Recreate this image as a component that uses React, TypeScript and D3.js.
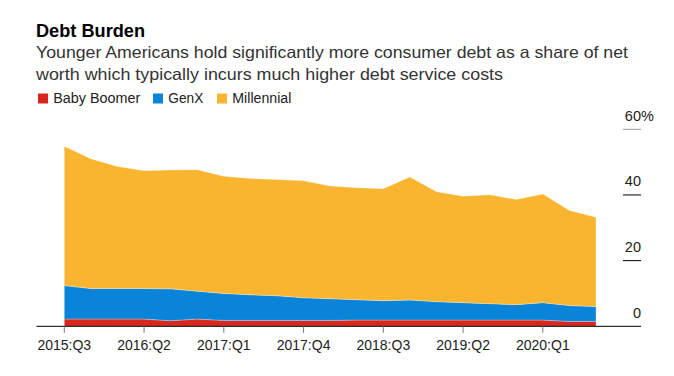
import React from "react";
import * as d3 from "d3";

const quarters = [
  "2015:Q3", "2015:Q4", "2016:Q1", "2016:Q2", "2016:Q3", "2016:Q4", "2017:Q1",
  "2017:Q2", "2017:Q3", "2017:Q4", "2018:Q1", "2018:Q2", "2018:Q3", "2018:Q4",
  "2019:Q1", "2019:Q2", "2019:Q3", "2019:Q4", "2020:Q1", "2020:Q2", "2020:Q3",
];
const babyBoomer = [2.2, 2.2, 2.2, 2.2, 1.7, 2.2, 1.8, 1.8, 1.8, 1.8, 1.8, 1.9, 1.9, 1.9, 1.9, 1.9, 1.9, 1.9, 1.9, 1.5, 1.5];
const genX = [10.2, 9.3, 9.3, 9.3, 9.7, 8.5, 8.2, 7.8, 7.5, 6.9, 6.6, 6.2, 5.9, 6.1, 5.6, 5.3, 5.0, 4.7, 5.3, 4.8, 4.5];
const millennial = [42.4, 39.5, 37.2, 35.9, 36.2, 37.0, 35.7, 35.4, 35.4, 35.6, 34.3, 34.1, 34.1, 37.5, 33.5, 32.4, 33.2, 32.0, 33.1, 29.0, 27.2];

const tickQuarters = ["2015:Q3", "2016:Q2", "2017:Q1", "2017:Q4", "2018:Q3", "2019:Q2", "2020:Q1"];
const yTicks = [0, 20, 40, 60];

const seriesNames = ["Baby Boomer", "GenX", "Millennial"];
const colors = ["#d9271d", "#0a84d8", "#f9b530"];

export default function App() {
  const width = 674;
  const height = 376;
  const font = "'Liberation Sans', Arial, Helvetica, sans-serif";

  const rows = quarters.map((q, i) => ({
    q,
    "Baby Boomer": babyBoomer[i],
    GenX: genX[i],
    Millennial: millennial[i],
  }));
  const stack = d3.stack<any>().keys(seriesNames);
  const layers = stack(rows);

  const x = d3.scaleLinear().domain([0, quarters.length - 1]).range([64.3, 596]);
  const y = d3.scaleLinear().domain([0, 60]).range([326.3, 129.3]);

  const area = d3
    .area<any>()
    .x((_d, i) => x(i))
    .y0((d) => y(d[0]))
    .y1((d) => y(d[1]))
    .curve(d3.curveLinear);

  const legendItems = [
    { name: seriesNames[0], x: 38, w: 87 },
    { name: seriesNames[1], x: 153, w: 35 },
    { name: seriesNames[2], x: 217, w: 59 },
  ];

  return (
    <svg
      width={width}
      height={height}
      style={{ position: "absolute", left: 0, top: 0, background: "#fff" }}
      fontFamily={font}
    >
      <text x={36} y={37} fontSize={18} fontWeight="bold" fill="#000" textLength={109} lengthAdjust="spacingAndGlyphs">
        Debt Burden
      </text>
      <text x={36} y={57.5} fontSize={16.5} fill="#333" textLength={592} lengthAdjust="spacingAndGlyphs">
        Younger Americans hold significantly more consumer debt as a share of net
      </text>
      <text x={36} y={79.5} fontSize={16.5} fill="#333" textLength={467} lengthAdjust="spacingAndGlyphs">
        worth which typically incurs much higher debt service costs
      </text>

      {legendItems.map((it, i) => (
        <g key={it.name}>
          <rect x={it.x} y={93.5} width={10} height={10} fill={colors[i]} />
          <text x={it.x + 15.3} y={103} fontSize={14} fill="#222" textLength={it.w} lengthAdjust="spacingAndGlyphs">
            {it.name}
          </text>
        </g>
      ))}

      {layers.map((layer, i) => (
        <path
          key={layer.key}
          d={area(layer as any) || ""}
          fill={colors[i]}
          stroke="rgba(255,255,255,0.35)"
          strokeWidth={0.8}
        />
      ))}

      {/* baseline */}
      <line x1={36.5} x2={641} y1={y(0)} y2={y(0)} stroke="#000" strokeWidth={1} />

      {/* x ticks */}
      {tickQuarters.map((tq) => {
        const i = quarters.indexOf(tq);
        const xp = x(i);
        return (
          <g key={tq}>
            <line x1={xp} x2={xp} y1={y(0)} y2={y(0) + 6.5} stroke="#777" strokeWidth={1} />
            <text x={xp} y={350} fontSize={14} textAnchor="middle" fill="#222">
              {tq}
            </text>
          </g>
        );
      })}

      {/* y ticks */}
      {yTicks.map((t) => {
        const yp = y(t);
        return (
          <g key={t}>
            {t > 0 && (
              <line
                x1={623}
                x2={641}
                y1={yp}
                y2={yp}
                stroke={t === 60 ? "#999" : "#000"}
                strokeWidth={1}
              />
            )}
            <text x={641} y={yp - 8.5} fontSize={14.5} textAnchor="end" fill="#222">
              {t}
            </text>
            {t === 60 && (
              <text x={641} y={yp - 8.5} fontSize={14.5} textAnchor="start" fill="#222">
                %
              </text>
            )}
          </g>
        );
      })}
    </svg>
  );
}
